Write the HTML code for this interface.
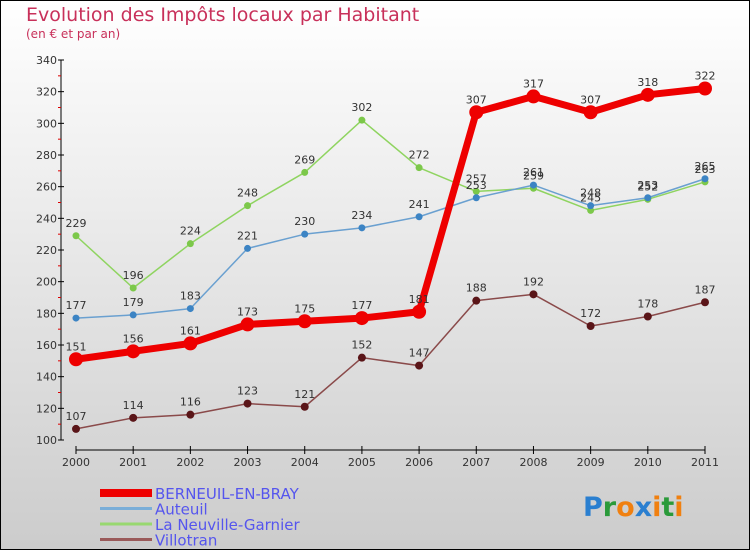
<!DOCTYPE html>
<html><head><meta charset="utf-8"><style>
body{margin:0}
#c{width:750px;height:550px;position:relative;box-sizing:border-box;border:1px solid #000;background:linear-gradient(#ffffff,#cccccc);font-family:"DejaVu Sans","Liberation Sans",sans-serif;overflow:hidden}
</style></head><body>
<div id="c">
<svg id="s" width="750" height="550" style="position:absolute;left:-1px;top:-1px"></svg>
</div>
<script>
const years=[2000,2001,2002,2003,2004,2005,2006,2007,2008,2009,2010,2011];
const berneuil=[151,156,161,173,175,177,181,307,317,307,318,322];
const auteuil=[177,179,183,221,230,234,241,253,261,248,253,265];
const neuville=[229,196,224,248,269,302,272,257,259,245,252,263];
const villotran=[107,114,116,123,121,152,147,188,192,172,178,187];
const yTicks=[100,120,140,160,180,200,220,240,260,280,300,320,340];
const names=["BERNEUIL-EN-BRAY","Auteuil","La Neuville-Garnier","Villotran"];
const NS="http://www.w3.org/2000/svg";
const svg=document.getElementById('s');
const X=i=>76+i*(705-76)/11;
const Y=v=>440-(v-100)*380/240;
function mk(t,a,p){const e=document.createElementNS(NS,t);for(const k in a)e.setAttribute(k,a[k]);(p||svg).appendChild(e);return e;}
let t=mk('text',{x:26,y:21,'font-size':19,fill:'#c8305a'});t.textContent='Evolution des Impôts locaux par Habitant';

t=mk('text',{x:26,y:38,'font-size':12,fill:'#c8305a'});t.textContent='(en € et par an)';

let ax=mk('g',{});
mk('line',{x1:61,y1:60,x2:61,y2:440,stroke:'#000'},ax);
yTicks.forEach((v,i)=>{mk('line',{x1:58,x2:64,y1:Y(v),y2:Y(v),stroke:'#000'},ax);
 if(i<yTicks.length-1)mk('line',{x1:58,x2:61,y1:Y(v+10),y2:Y(v+10),stroke:'#d00'},ax);
 const l=mk('text',{x:57,y:Y(v)+4,'text-anchor':'end','font-size':11,fill:'#333'},ax);l.textContent=v;});
let xa=mk('g',{});
mk('line',{x1:76,y1:450,x2:705,y2:450,stroke:'#000'},xa);
years.forEach((y,i)=>{mk('line',{x1:X(i),x2:X(i),y1:446,y2:454,stroke:'#000'},xa);
 const l=mk('text',{x:X(i),y:466,'text-anchor':'middle','font-size':11,fill:'#333'},xa);l.textContent=y;});
function series(d,col,w,r,name,dark){
 const g=mk('g',{});
 mk('polyline',{points:d.map((v,i)=>X(i)+','+Y(v)).join(' '),fill:'none',stroke:col,'stroke-width':w,'stroke-linejoin':'round'},g);
 d.forEach((v,i)=>{const c=mk('circle',{cx:X(i),cy:Y(v),r:r,fill:dark||col},g);
  const l=mk('text',{x:X(i),y:Y(v)-9,'text-anchor':'middle','font-size':11,fill:'#333'},g);l.textContent=v;});
}
series(villotran,'#8a4a4a',1.5,4,'villotran-series','#5a1518');
series(neuville,'#8fd460',1.5,3.5,'neuville-series','#7cc84a');
series(auteuil,'#6aa0d0',1.5,3.5,'auteuil-series','#3c84c4');
series(berneuil,'#ee0000',7,7,'berneuil-series');
const lc=['#ee0000','#7aaed8','#98d870','#9a5a5a'],lw=[8,3,3,3];
names.forEach((n,i)=>{const g=mk('g',{});
 const y=493+i*15.5;mk('line',{x1:100,x2:152,y1:y,y2:y,stroke:lc[i],'stroke-width':lw[i]},g);
 const l=mk('text',{x:155,y:y+6,'font-size':15,fill:'#5555ee'},g);l.textContent=n;});
const lg=mk('text',{x:583,y:516,'font-size':27,'font-weight':'bold'});
[['P','#2a7fd0'],['r','#2a9a3a'],['o','#f08010'],['x','#2a7fd0'],['i','#f08010'],['t','#2a9a3a'],['i','#f08010']].forEach(([c,f])=>{const s=mk('tspan',{fill:f},lg);s.textContent=c;});
</script>
</body></html>
